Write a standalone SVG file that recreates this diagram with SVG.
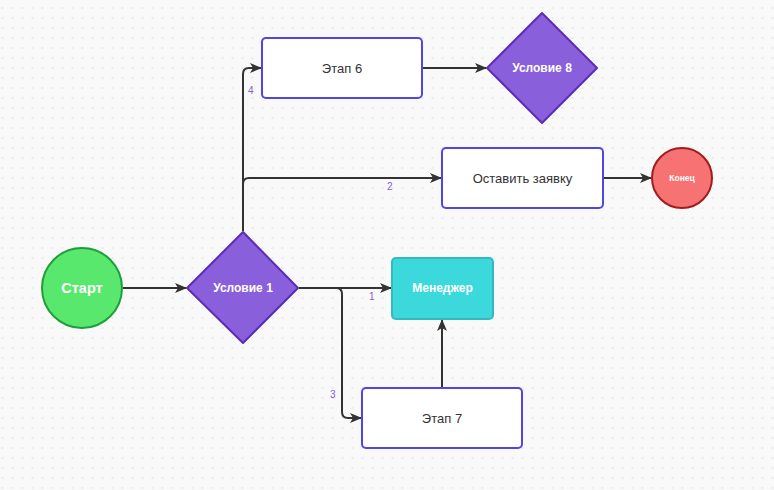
<svg xmlns="http://www.w3.org/2000/svg" width="774" height="490" viewBox="0 0 774 490">
<defs>
<pattern id="grid" x="0" y="0" width="10" height="10" patternUnits="userSpaceOnUse">
<rect x="1.5" y="7.5" width="2" height="1" fill="#dcdcdc"/>
</pattern>
<marker id="arr" viewBox="0 0 12 12" refX="11" refY="6" markerWidth="12" markerHeight="12" markerUnits="userSpaceOnUse" orient="auto">
<path d="M0,1 L12,6 L0,11 L3,6 z" fill="#333"/>
</marker>
<style>
.edge{fill:none;stroke:#333;stroke-width:2;marker-end:url(#arr)}
.lbl{font-family:"Liberation Sans",Arial,sans-serif;font-size:10px;fill:#8a5cd8}
.box{fill:#fff;stroke:#5146e5;stroke-width:2}
.dia{fill:#895fdb;stroke:#5a2db3;stroke-width:2;stroke-linejoin:round}
.t{font-family:"Liberation Sans",Arial,sans-serif;font-size:13px;fill:#333;text-anchor:middle;dominant-baseline:central}
.tw{font-family:"Liberation Sans",Arial,sans-serif;font-size:12px;fill:#fff;font-weight:bold;text-anchor:middle;dominant-baseline:central}
.big{font-size:14.5px}
.small{font-size:8.5px}
</style>
</defs>
<rect width="774" height="490" fill="#f9f9f9"/>
<rect width="774" height="490" fill="url(#grid)"/>

<g id="connectors">
<path class="edge" d="M123,288 L186,288"/>
<path class="edge" d="M299,288 L391,288"/>
<path class="edge" d="M299,288 L336,288 Q342,288 342,294 L342,412 Q342,418 348,418 L361,418"/>
<path class="edge" d="M243,231 L243,74 Q243,68 249,68 L261,68"/>
<path class="edge" d="M243,184 Q243,178 249,178 L441,178"/>
<path class="edge" d="M423,68 L486,68"/>
<path class="edge" d="M603,178 L651,178"/>
<path class="edge" d="M442,387 L442,320"/>
<text class="lbl" x="369" y="300">1</text>
<text class="lbl" x="387" y="190">2</text>
<text class="lbl" x="330" y="398">3</text>
<text class="lbl" x="248" y="94">4</text>
</g>

<g id="start">
<circle cx="82" cy="288" r="40" fill="#58e86d" stroke="#1e9e3c" stroke-width="2"/>
<text class="tw big" x="82" y="288">Старт</text>
</g>

<g id="cond1">
<path class="dia" d="M243,232 L298,288 L243,343 L187,288 Z"/>
<text class="tw" x="243" y="288">Условие 1</text>
</g>

<g id="manager">
<rect x="392" y="258" width="101" height="61" rx="4" fill="#3cd9dc" stroke="#35b9bc" stroke-width="2"/>
<text class="tw" x="442.5" y="288">Менеджер</text>
</g>

<g id="stage7">
<rect class="box" x="362" y="388" width="160" height="60" rx="4"/>
<text class="t" x="442" y="418">Этап 7</text>
</g>

<g id="stage6">
<rect class="box" x="262" y="38" width="160" height="60" rx="4"/>
<text class="t" x="342" y="68">Этап 6</text>
</g>

<g id="cond8">
<path class="dia" d="M542,13 L597,68 L542,123 L487,68 Z"/>
<text class="tw" x="542" y="68">Условие 8</text>
</g>

<g id="request">
<rect class="box" x="442" y="148" width="161" height="60" rx="4"/>
<text class="t" x="522.5" y="178">Оставить заявку</text>
</g>

<g id="end">
<circle cx="682" cy="178" r="30" fill="#f77373" stroke="#a01d1d" stroke-width="2"/>
<text class="tw small" x="682" y="178">Конец</text>
</g>
</svg>
